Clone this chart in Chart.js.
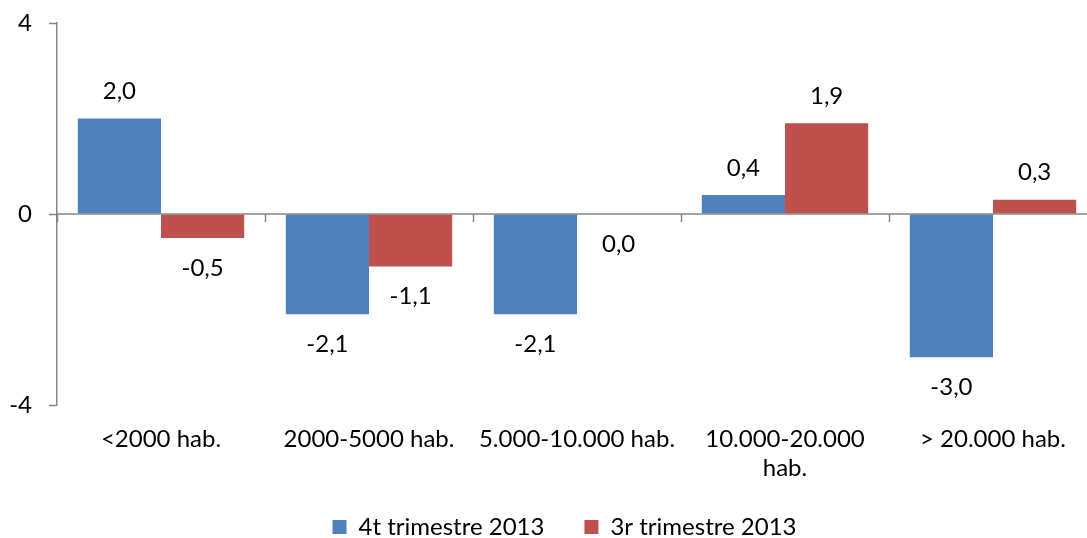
<!DOCTYPE html>
<html>
<head>
<meta charset="utf-8">
<script src="https://cdn.jsdelivr.net/npm/chart.js@4.4.0/dist/chart.umd.min.js"></script>
<style>
  html, body { margin: 0; padding: 0; overflow: hidden; background: #fff; }
  #wrap { position: relative; width: 1129px; height: 538px; }
</style>
</head>
<body>
<div id="wrap"><canvas id="c"></canvas></div>
<script>
const categories = ["<2000 hab.", "2000-5000 hab.", "5.000-10.000 hab.", ["10.000-20.000", "hab."], "> 20.000 hab."];
const series4t = [2.0, -2.1, -2.1, 0.4, -3.0];
const series3r = [-0.5, -1.1, 0.0, 1.9, 0.3];
const seriesNames = ["4t trimestre 2013", "3r trimestre 2013"];
const yTicks = [-4, 0, 4];

const FONT = "Lato";
const AXIS_GRAY = "#868686";

const overlayPlugin = {
  id: "overlay",
  afterLayout(chart) {
    const lg = chart.legend;
    if (lg) { lg.left += 12; lg.right += 12; lg.top -= 10; lg.bottom -= 10; }
  },
  afterDatasetsDraw(chart) {
    const ctx = chart.ctx;
    const x = chart.scales.x, y = chart.scales.y;
    const y0 = y.getPixelForValue(0);
    ctx.save();
    ctx.strokeStyle = AXIS_GRAY;
    ctx.lineWidth = 1.5;
    ctx.beginPath();
    ctx.moveTo(x.left, y0);
    ctx.lineTo(x.right, y0);
    const n = categories.length;
    const w = (x.right - x.left) / n;
    for (let i = 0; i <= n; i++) {
      const px = Math.round(x.left + i * w) + 0.5;
      ctx.moveTo(px, y0);
      ctx.lineTo(px, y0 + 8);
    }
    ctx.stroke();
    ctx.fillStyle = "#000";
    ctx.font = "24px " + FONT;
    ctx.textAlign = "center";
    ctx.textBaseline = "middle";
    chart.data.datasets.forEach((ds, di) => {
      const meta = chart.getDatasetMeta(di);
      meta.data.forEach((el, i) => {
        const v = ds.data[i];
        const ly = v > 0 ? el.y - 27 : el.y + 30;
        ctx.fillText(v.toFixed(1).replace(".", ","), el.x, ly);
      });
    });
    ctx.restore();
  }
};

new Chart(document.getElementById("c"), {
  type: "bar",
  data: {
    labels: categories,
    datasets: [
      { label: seriesNames[0], data: series4t, backgroundColor: "#4F81BD", categoryPercentage: 0.8, barPercentage: 1.0 },
      { label: seriesNames[1], data: series3r, backgroundColor: "#C0504D", categoryPercentage: 0.8, barPercentage: 1.0 }
    ]
  },
  options: {
    responsive: true,
    maintainAspectRatio: false,
    animation: false,
    layout: { padding: { top: 23, right: 32, left: 8, bottom: -21 } },
    plugins: {
      legend: {
        position: "bottom",
        labels: {
          boxWidth: 14, boxHeight: 14, padding: 40,
          color: "#000",
          font: { family: FONT, size: 24 }
        }
      },
      tooltip: { enabled: false }
    },
    scales: {
      x: {
        grid: { display: false, drawTicks: false },
        border: { display: false },
        ticks: { color: "#000", font: { family: FONT, size: 24 }, padding: 20, maxRotation: 0, autoSkip: false },
        afterFit(s) { s.height = 80; }
      },
      y: {
        min: -4, max: 4,
        afterBuildTicks(s) { s.ticks = yTicks.map(v => ({ value: v })); },
        grid: { drawOnChartArea: false, drawTicks: true, tickLength: 8, tickColor: AXIS_GRAY, tickWidth: 1.5 },
        border: { display: true, color: AXIS_GRAY, width: 1.5 },
        ticks: { color: "#000", font: { family: FONT, size: 24 }, padding: 17 },
        afterFit(s) { s.width = 49; s.paddingTop = 0; s.paddingBottom = 0; }
      }
    }
  },
  plugins: [overlayPlugin]
});
</script>
</body>
</html>
